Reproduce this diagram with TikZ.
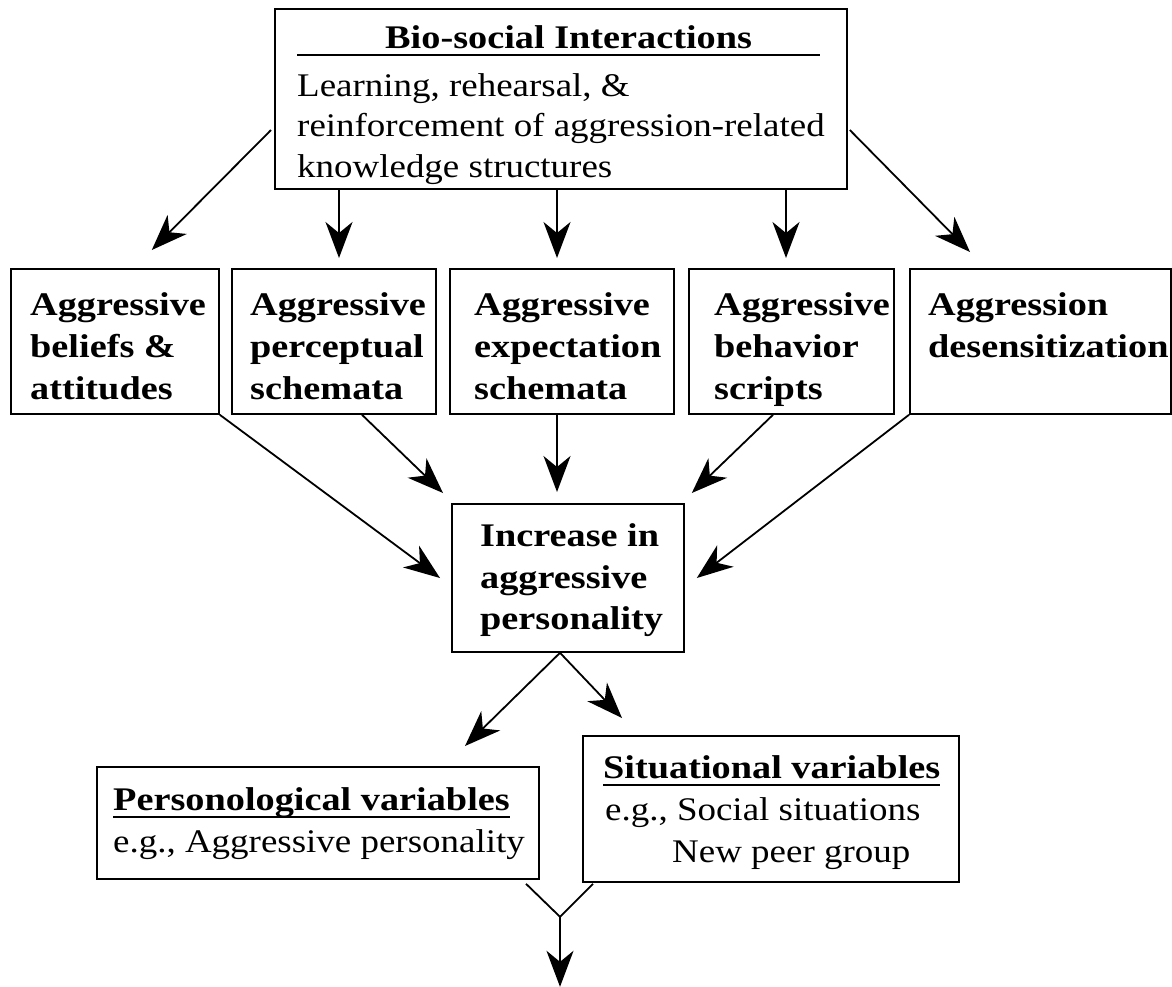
\documentclass[tikz,border=0pt]{standalone}
\usepackage{fontspec}
\setmainfont{Liberation Serif}[FakeStretch=1.12,BoldFont={Liberation Serif Bold},BoldFeatures={FakeStretch=1.16}]
\usetikzlibrary{arrows.meta,calc}
\newcommand\myul[1]{\setbox0\hbox{#1}\rlap{\rule[-8pt]{\wd0}{2pt}}\box0}
\begin{document}
\begin{tikzpicture}[x=1pt,y=-1pt,
  box/.style={draw, line width=1.8pt, rectangle, inner sep=0pt, anchor=north west},
  txt/.style={inner sep=0pt, anchor=north west, align=left, font=\fontsize{33}{42}\selectfont},
  arr/.style={-{Stealth[length=36pt,width=27pt,inset=11pt]}, line width=1.8pt},
  ln/.style={line width=1.8pt}]
\useasboundingbox (0,0) rectangle (1172,986);

% top box
\node[box, minimum width=572pt, minimum height=180pt] (top) at (274,8) {};
\node[txt] (ttl) at (385,18.6) {\strut\textbf{Bio-social Interactions}};
\draw[ln] ($(top.north west)+(23,47)$) -- ($(top.north east)+(-28,47)$);
\node[txt, font=\fontsize{33}{40.5}\selectfont] (tbody) at (297,67.6) {\strut Learning, rehearsal, \&\\reinforcement of aggression-related\\knowledge structures};

% row boxes
\node[box, minimum width=208pt, minimum height=145pt] (b1) at (10,268) {};
\node[box, minimum width=204pt, minimum height=145pt] (b2) at (231,268) {};
\node[box, minimum width=224pt, minimum height=145pt] (b3) at (449,268) {};
\node[box, minimum width=205pt, minimum height=145pt] (b4) at (688,268) {};
\node[box, minimum width=261pt, minimum height=145pt] (b5) at (909,268) {};
\node[txt, font=\fontsize{33}{42}\selectfont\bfseries] (t1) at (30,285.6) {\strut Aggressive\\beliefs \&\\attitudes};
\node[txt, font=\fontsize{33}{42}\selectfont\bfseries] (t2) at (250,285.6) {\strut Aggressive\\perceptual\\schemata};
\node[txt, font=\fontsize{33}{42}\selectfont\bfseries] (t3) at (474,285.6) {\strut Aggressive\\expectation\\schemata};
\node[txt, font=\fontsize{33}{42}\selectfont\bfseries] (t4) at (714,285.6) {\strut Aggressive\\behavior\\scripts};
\node[txt, font=\fontsize{33}{42}\selectfont\bfseries] (t5) at (928,285.6) {\strut Aggression\\desensitization};

% middle box
\node[box, minimum width=232pt, minimum height=148pt] (mid) at (451,503) {};
\node[txt, font=\fontsize{33}{41.5}\selectfont\bfseries] (tm) at (480,517.6) {\strut Increase in\\aggressive\\personality};

% bottom boxes
\node[box, minimum width=442pt, minimum height=112pt] (pers) at (96,766) {};
\node[txt] (tp) at (113,780.6) {\strut\myul{\textbf{Personological variables}}\\e.g., Aggressive personality};
\node[box, minimum width=376pt, minimum height=146pt] (sit) at (582,735) {};
\node[txt] (ts) at (603,748.6) {\strut\myul{\textbf{Situational variables}}\\\hspace*{2pt}e.g., Social situations\\\hspace*{69pt}New peer group};

% arrows from top
\draw[arr] ($(top.north west)+(-3,122)$) -- ($(b1.north east)+(-68,-18)$);
\draw[arr] ($(top.south west)+(65,0)$) -- ($(b2.north west)+(108,-10)$);
\draw[arr] ($(top.south west)+(283,0)$) -- ($(b3.north west)+(108,-10)$);
\draw[arr] ($(top.south west)+(512,0)$) -- ($(b4.north west)+(98,-10)$);
\draw[arr] ($(top.north east)+(2,122)$) -- ($(b5.north west)+(61,-16)$);

% arrows to middle
\draw[arr] (b1.south east) -- ($(mid.north west)+(-11,75)$);
\draw[arr] ($(b2.south west)+(131,0)$) -- ($(mid.north west)+(-8,-10)$);
\draw[arr] ($(b3.south west)+(108,0)$) -- ($(mid.north west)+(106,-11)$);
\draw[arr] ($(b4.south west)+(85,0)$) -- ($(mid.north east)+(7,-10)$);
\draw[arr] (b5.south west) -- ($(mid.north east)+(12,75)$);

% arrows from middle
\draw[arr] ($(mid.south west)+(109,0)$) -- ($(pers.north west)+(369,-20)$);
\draw[arr] ($(mid.south west)+(109,0)$) -- ($(sit.north west)+(40,-17)$);

% merge
\coordinate (m) at ($(pers.south west)+(464,37)$);
\coordinate (out) at ($(m)+(0,70)$);
\draw[ln] ($(pers.south west)+(430,4)$) -- (m);
\draw[ln] ($(sit.south west)+(11,1)$) -- (m);
\draw[arr] (m) -- (out);
\end{tikzpicture}
\end{document}
